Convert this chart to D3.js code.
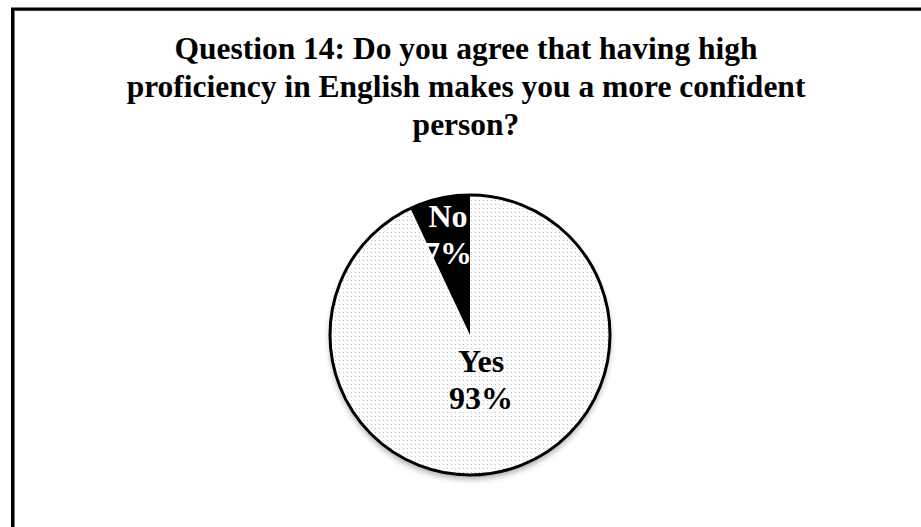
<!DOCTYPE html>
<html><head><meta charset="utf-8">
<script src="https://cdn.jsdelivr.net/npm/d3@7/dist/d3.min.js"></script>
<style>html,body{margin:0;padding:0;background:#fff;}svg{display:block;}</style>
</head><body>
<script>
const titleLines = ["Question 14: Do you agree that having high", "proficiency in English makes you a more confident", "person?"];
const categories = ["Yes", "No"];
const values = [93, 7];
const labels = ["93%", "7%"];

const W = 921, H = 527;
const svg = d3.select("body").append("svg").attr("width", W).attr("height", H);
const defs = svg.append("defs");
const pat = defs.append("pattern").attr("id", "dots").attr("patternUnits", "userSpaceOnUse")
  .attr("width", 4).attr("height", 4);
pat.append("rect").attr("width", 4).attr("height", 4).attr("fill", "#fdfdfd");
pat.append("rect").attr("x", 1).attr("y", 1).attr("width", 1).attr("height", 1).attr("fill", "#c0c0c0");
const sh = defs.append("filter").attr("id", "shadow").attr("x", "-20%").attr("y", "-20%").attr("width", "140%").attr("height", "150%");
sh.append("feGaussianBlur").attr("in", "SourceAlpha").attr("stdDeviation", 3);
sh.append("feOffset").attr("dx", 0).attr("dy", 4).attr("result", "b");
sh.append("feComponentTransfer").append("feFuncA").attr("type", "linear").attr("slope", 0.35);
const m = sh.append("feMerge");
m.append("feMergeNode"); m.append("feMergeNode").attr("in", "SourceGraphic");

// frame (right and bottom lie outside the picture)
svg.append("rect").attr("x", 14.5).attr("y", 10.5).attr("width", 1000).attr("height", 1000)
  .attr("fill", "none").attr("stroke", "#777").attr("stroke-width", 1);
svg.append("rect").attr("x", 12.5).attr("y", 9).attr("width", 1000).attr("height", 1000)
  .attr("fill", "none").attr("stroke", "#000").attr("stroke-width", 3);

// title
const title = svg.append("text").attr("text-anchor", "middle")
  .attr("font-family", "Liberation Serif, Times New Roman, serif").attr("font-weight", "bold")
  .attr("font-size", 31.5).attr("fill", "#000");
titleLines.forEach((t, i) => title.append("tspan").attr("x", 466).attr("y", 59 + i * 38).text(t));

// pie
const cx = 470, cy = 335, r = 140;
const pie = d3.pie().sort(null).value(d => d)(values);
const arc = d3.arc().innerRadius(0).outerRadius(r);
const g = svg.append("g").attr("transform", `translate(${cx},${cy})`);
g.append("circle").attr("r", r).attr("fill", "#fff").attr("filter", "url(#shadow)");
const fills = ["url(#dots)", "#000"];
g.selectAll("path.slice").data(pie).join("path").attr("class", "slice")
  .attr("d", arc).attr("fill", (d, i) => fills[i]);
g.append("circle").attr("r", r).attr("fill", "none").attr("stroke", "#000").attr("stroke-width", 3);

// labels
const lblPos = [[11, 37], [-22, -108]];
const lblColor = ["#000", "#fff"];
pie.forEach((d, i) => {
  const t = g.append("text").attr("text-anchor", "middle")
    .attr("font-family", "Liberation Serif, Times New Roman, serif").attr("font-weight", "bold")
    .attr("font-size", 32).attr("fill", lblColor[i]);
  t.append("tspan").attr("x", lblPos[i][0]).attr("y", lblPos[i][1]).text(categories[i]);
  t.append("tspan").attr("x", lblPos[i][0]).attr("y", lblPos[i][1] + 37).text(labels[i]);
});
</script>
</body></html>
